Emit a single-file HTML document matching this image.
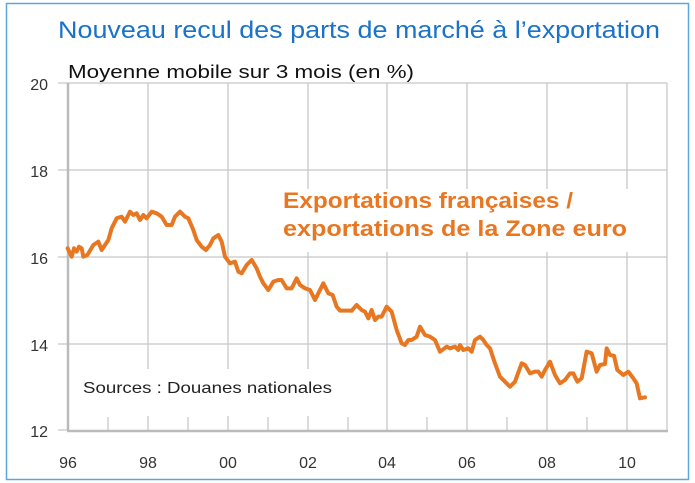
<!DOCTYPE html>
<html><head><meta charset="utf-8"><style>
html,body{margin:0;padding:0;background:#fff;}
svg{display:block;}
</style></head><body>
<svg width="695" height="483" viewBox="0 0 695 483" xmlns="http://www.w3.org/2000/svg" font-family="Liberation Sans, sans-serif">
<rect x="0" y="0" width="695" height="483" fill="#fff"/>
<rect x="6.5" y="3.5" width="682" height="476" fill="#fff" stroke="#5aa7e0" stroke-width="1.5"/>
<text x="58" y="38" font-size="24" fill="#1a73c8" textLength="602" lengthAdjust="spacingAndGlyphs">Nouveau recul des parts de marché à l’exportation</text>
<text x="68" y="78" font-size="18" fill="#111" textLength="346" lengthAdjust="spacingAndGlyphs">Moyenne mobile sur 3 mois (en %)</text>
<g stroke="#c8c8c8" stroke-width="1.3" fill="none">
<line x1="58" y1="83" x2="667" y2="83"/>
<line x1="58" y1="170" x2="667" y2="170"/>
<line x1="58" y1="257" x2="667" y2="257"/>
<line x1="58" y1="344" x2="667" y2="344"/>
<line x1="58" y1="430" x2="68" y2="430"/>
<line x1="667" y1="83" x2="667" y2="430"/>
<line x1="148" y1="83" x2="148" y2="430"/>
<line x1="228" y1="83" x2="228" y2="430"/>
<line x1="308" y1="83" x2="308" y2="430"/>
<line x1="387" y1="83" x2="387" y2="430"/>
<line x1="467" y1="83" x2="467" y2="430"/>
<line x1="547" y1="83" x2="547" y2="430"/>
<line x1="627" y1="83" x2="627" y2="430"/>
<line x1="108" y1="417" x2="108" y2="430"/>
<line x1="188" y1="417" x2="188" y2="430"/>
<line x1="268" y1="417" x2="268" y2="430"/>
<line x1="348" y1="417" x2="348" y2="430"/>
<line x1="427" y1="417" x2="427" y2="430"/>
<line x1="507" y1="417" x2="507" y2="430"/>
<line x1="587" y1="417" x2="587" y2="430"/>
</g>
<rect x="76" y="369" width="262" height="47" fill="#fff"/>
<rect x="280" y="189" width="352" height="63" fill="#fff"/>
<line x1="68" y1="83" x2="68" y2="431" stroke="#bbb" stroke-width="2.5"/>
<line x1="67" y1="431" x2="668" y2="431" stroke="#bbb" stroke-width="2.5"/>
<g font-size="16" fill="#333">
<text x="48" y="90" text-anchor="end">20</text>
<text x="48" y="177" text-anchor="end">18</text>
<text x="48" y="264" text-anchor="end">16</text>
<text x="48" y="351" text-anchor="end">14</text>
<text x="48" y="437" text-anchor="end">12</text>
<g text-anchor="middle">
<text x="68" y="468">96</text><text x="148" y="468">98</text><text x="228" y="468">00</text><text x="308" y="468">02</text>
<text x="387" y="468">04</text><text x="467" y="468">06</text><text x="547" y="468">08</text><text x="627" y="468">10</text>
</g>
</g>
<text x="83" y="393" font-size="16" fill="#222" textLength="249" lengthAdjust="spacingAndGlyphs">Sources : Douanes nationales</text>
<g font-size="22" fill="#e87722" font-weight="bold">
<text x="283" y="208" textLength="290" lengthAdjust="spacingAndGlyphs">Exportations françaises /</text>
<text x="283" y="236" textLength="344" lengthAdjust="spacingAndGlyphs">exportations de la Zone euro</text>
</g>
<g transform="translate(0,60) scale(0.33333)" fill="none" stroke="#e87722" stroke-width="12" stroke-linejoin="round" stroke-linecap="round">
<polyline points="203,565 215,590 222,565 230,575 237,560 245,565 250,590 262,585 280,555 295,545 305,570 325,540 335,505 350,475 365,470 375,485 390,455 400,465 410,460 420,480 430,465 440,475 455,455 470,460 485,470 500,495 515,495 525,470 540,455 555,470 565,475 580,510 590,540 605,560 618,570 630,555 640,535 655,525 665,545 675,590 690,610 705,605 715,635 725,640 740,615 755,600 770,625 780,650 790,670 805,690 820,665 835,660 845,660 860,685 875,685 890,655 900,675 915,685 930,690 945,720 955,700 970,670 985,700 998,705 1010,740 1020,752 1055,752"/>
<polyline transform="translate(1020,0)" points="35,752 50,735 65,750 75,755 85,775 95,750 105,780 115,770 125,770 140,740 155,755 170,810 185,850 195,855 205,840 215,840 230,830 240,800 255,825 270,830 285,840 300,875 320,860 330,865 345,860 355,870 360,855 370,870 385,865 395,875 405,840 420,830 430,840 440,855 450,865 465,910 480,950 495,965 510,980 525,965 545,910 555,915 570,940 585,935 595,935 605,950 615,930 630,905 645,945 660,970 675,960 690,940 700,940 712,965 725,955 740,875 755,880 770,935 780,915 795,912 800,865 810,885 822,887 832,930 850,945 865,935 880,955 890,970 900,1015 915,1012"/>
</g>
</svg>
</body></html>
